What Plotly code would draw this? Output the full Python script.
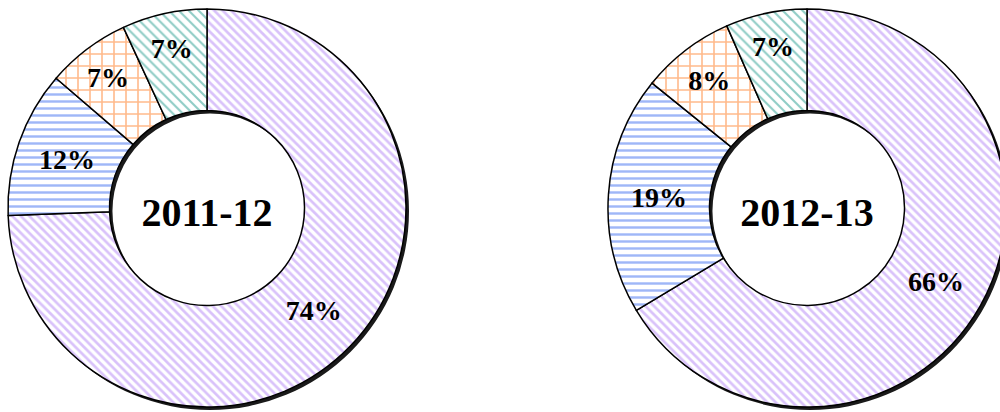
import plotly.graph_objects as go

categories = ["A", "B", "C", "D"]
years = ["2011-12", "2012-13"]
values_2011 = [74.4, 11.9, 6.8, 6.9]
values_2012 = [66.4, 19.4, 7.6, 6.6]

colors = ["#b385f5", "#3f6ff0", "#ff7417", "#1f9a8c"]
shapes = ["\\", "-", "+", "\\"]
sizes = [6, 7, 12, 7]
solid = [0.45, 0.35, 0.25, 0.3]

W, H = 1010, 412
FONT = "Liberation Serif"

def dom(x0, x1, y0, y1):
    return dict(x=[x0 / W, x1 / W], y=[y0 / H, y1 / H])

fig = go.Figure()

panels = [
    (values_2011, years[0], (8, 406)),
    (values_2012, years[1], (608, 1006)),
]

for vals, yr, (x0, x1) in panels:
    r = x1 - x0
    y0, y1 = 5, 5 + r
    # shadow ring
    fig.add_trace(go.Pie(
        values=[1], labels=["shadow"], hole=0.49, sort=False,
        domain=dom(x0 + 3, x1 + 3, y0 - 3, y1 - 3),
        marker=dict(colors=["#1a1a1a"], line=dict(width=0)),
        textinfo="none", hoverinfo="skip", showlegend=False,
    ))
    fig.add_trace(go.Pie(
        values=vals, labels=categories, texttemplate="%{percent:.0%}",
        hole=0.49, sort=False, direction="clockwise", rotation=0,
        domain=dom(x0, x1, y0, y1),
        marker=dict(
            colors=["white"] * 4,
            line=dict(color="black", width=1.5),
            pattern=dict(shape=shapes, fgcolor=colors, bgcolor="white",
                         size=sizes, solidity=solid, fillmode="overlay"),
        ),
        textposition="inside", insidetextorientation="horizontal",
        textfont=dict(family=FONT, size=28, color="black", weight="bold"),
        title=dict(text=yr, position="middle center",
                   font=dict(family=FONT, size=40, color="black", weight="bold")),
        showlegend=False,
    ))

fig.update_layout(
    width=W, height=H,
    margin=dict(l=0, r=0, t=0, b=0),
    paper_bgcolor="white", plot_bgcolor="white",
    uniformtext=dict(minsize=28, mode="show"),
    showlegend=False,
)

fig.write_html("out.html", config={"displayModeBar": False},
               post_script="document.body.style.margin='0';document.body.style.overflow='hidden';")
